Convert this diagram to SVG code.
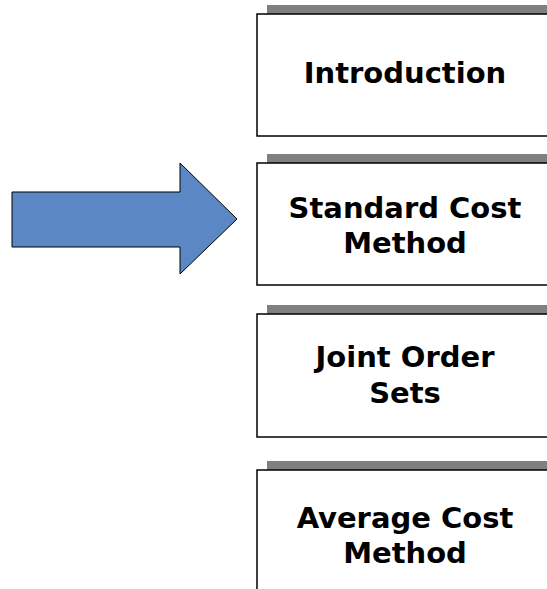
<svg xmlns="http://www.w3.org/2000/svg" width="547" height="589" viewBox="0 0 547 589">
<style>
.bar{fill:#808080}
.box{fill:#ffffff;stroke:#000000;stroke-width:1.5}
.t{font-family:"DejaVu Sans",Verdana,sans-serif;font-weight:bold;font-size:29px;fill:#000000;text-anchor:middle}
</style>
<rect width="547" height="589" fill="#ffffff"/>
<g id="arrow">
<polygon points="12,192 180,192 180,163 237,219 180,274 180,247 12,247" fill="#5b87c5" stroke="#000000" stroke-width="1"/>
</g>
<g id="node-introduction">
<rect class="bar" x="267" y="5" width="290" height="9"/>
<rect class="box" x="257" y="14" width="300" height="122"/>
<text class="t" x="405" y="83">Introduction</text>
</g>
<g id="node-standard-cost">
<rect class="bar" x="267" y="154" width="290" height="9"/>
<rect class="box" x="257" y="163" width="300" height="122"/>
<text class="t" x="405" y="218">Standard Cost</text>
<text class="t" x="405" y="253">Method</text>
</g>
<g id="node-joint-order">
<rect class="bar" x="267" y="305" width="290" height="9"/>
<rect class="box" x="257" y="314" width="300" height="123"/>
<text class="t" x="405" y="367">Joint Order</text>
<text class="t" x="405" y="403">Sets</text>
</g>
<g id="node-average-cost">
<rect class="bar" x="267" y="461" width="290" height="9"/>
<rect class="box" x="257" y="470" width="300" height="130"/>
<text class="t" x="405" y="528">Average Cost</text>
<text class="t" x="405" y="563">Method</text>
</g>
<g id="connectors"></g>
</svg>
